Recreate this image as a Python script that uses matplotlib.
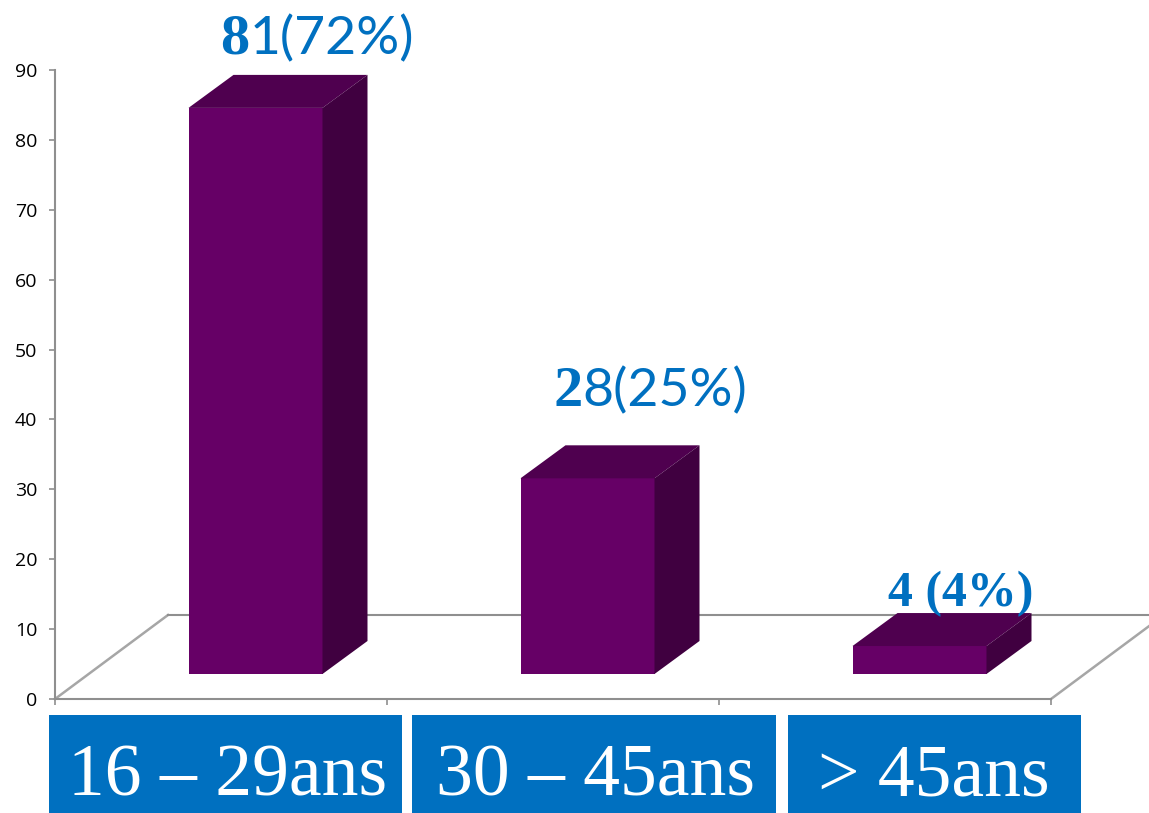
# Built-in modules #
from matplotlib import pyplot
from matplotlib.patches import Rectangle

# Data #
categories = ['16 – 29ans', '30 – 45ans', '> 45ans']
values     = [81, 28, 4]
heads      = ['8', '2', '']
tails      = ['1(72%)', '8(25%)', '4 (4%)']
y_ticks    = [0, 10, 20, 30, 40, 50, 60, 70, 80, 90]

# Colors #
blue, gray  = '#0070c0', '#8f8f8f'
front, top, side = '#660066', '#4f004f', '#400040'

# Figure size in pixels #
W, H = 1149, 813
fig  = pyplot.figure(figsize=(W/100, H/100), dpi=100)
axes = fig.add_axes([55/W, (H-699)/H, 996/W, 629/H])
axes.set_xlim(-0.5, 2.5)
axes.set_ylim(0, 90)
axes.patch.set_visible(False)

# Scale of the axes #
x_unit, y_unit = 332, 629/90
floor  = 25 / y_unit    # Bars do not start on the front edge
width  = 134 / x_unit
shift  = 34.5 / x_unit
dx, dy = 45 / x_unit, 33 / y_unit
bx, by = 113 / x_unit, 84 / y_unit

# Frame #
for name in ('top', 'right'): axes.spines[name].set_visible(False)
for name in ('left', 'bottom'):
    axes.spines[name].set_color(gray)
    axes.spines[name].set_linewidth(1.5)
axes.set_xticks([-0.5, 0.5, 1.5, 2.5])
axes.set_xticklabels([])
axes.set_yticks(y_ticks)
axes.tick_params(axis='both', color=gray, width=1.2, length=4.3)
axes.tick_params(axis='y', pad=8.5, labelsize=14)
for label in axes.get_yticklabels(): label.set_family('Open Sans')

# Floor of the 3D chart #
line = dict(color=gray, lw=1.5, clip_on=False, zorder=1)
axes.plot([-0.5, -0.5+bx], [0, by], color='#a6a6a6', lw=1.8, clip_on=False, zorder=1)
axes.plot([2.5, 2.5+bx], [0, by], color='#a6a6a6', lw=1.8, clip_on=False, zorder=1)
axes.plot([-0.5+bx, 2.5+bx], [by, by], **line)

# Bars #
centers = [i + shift for i in range(len(values))]
axes.bar(centers, values, width=width, bottom=floor, color=front, zorder=3)
for x, value in zip(centers, values):
    x0, x1 = x - width/2, x + width/2
    y0, y1 = floor, floor + value
    axes.fill([x0, x0+dx, x1+dx, x1], [y1, y1+dy, y1+dy, y1], color=top, lw=0, clip_on=False, zorder=3)
    axes.fill([x1, x1+dx, x1+dx, x1], [y0, y0+dy, y1+dy, y1], color=side, lw=0, clip_on=False, zorder=3)

# Value labels, the first digit is in another font #
fig.canvas.draw()
renderer = fig.canvas.get_renderer()
lefts    = [220, 553, 888]
bases    = [54, 406, 606]
for head, tail, left, base in zip(heads, tails, lefts, bases):
    y = (H-base)/H
    if head:
        first = fig.text(left/W, y, head, color=blue, size=42, family='Liberation Serif',
                         weight='bold', ha='left', va='baseline', zorder=5)
        left  = first.get_window_extent(renderer).x1
        fig.text(left/W, y, tail, color=blue, size=38.5, family='Lato', ha='left', va='baseline', zorder=5)
    else:
        fig.text(left/W, y, tail, color=blue, size=36, family='Liberation Serif',
                 weight='bold', ha='left', va='baseline', zorder=5)

# Category boxes #
boxes   = [(49, 402), (412, 776), (788, 1081)]
middles = [228, 595, 934]
for (x0, x1), mid, name in zip(boxes, middles, categories):
    fig.add_artist(Rectangle((x0/W, 0), (x1-x0)/W, (H-715)/H, color=blue, lw=0, transform=fig.transFigure))
    fig.text(mid/W, (H-795)/H, name, color='white', size=53, family='Liberation Serif',
             ha='center', va='baseline')

# Save it #
fig.savefig('out.png', dpi=100)
pyplot.close(fig)
